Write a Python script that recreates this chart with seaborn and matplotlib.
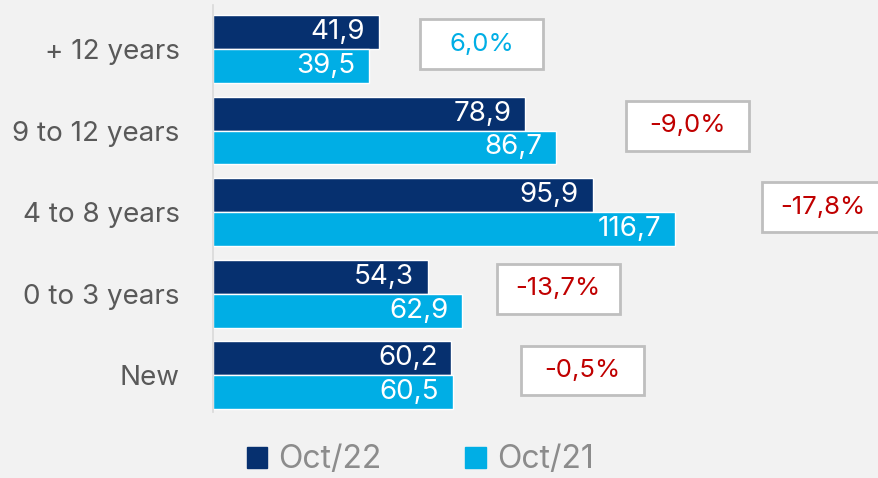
import matplotlib
matplotlib.use("Agg")
import matplotlib.pyplot as plt
import matplotlib.patches as mpatches
import pandas as pd
import seaborn as sns

# data
categories = ["+ 12 years", "9 to 12 years", "4 to 8 years", "0 to 3 years", "New"]
oct22 = [41.9, 78.9, 95.9, 54.3, 60.2]
oct21 = [39.5, 86.7, 116.7, 62.9, 60.5]
change_pct = [6.0, -9.0, -17.8, -13.7, -0.5]
series_names = ["Oct/22", "Oct/21"]

# where the change boxes sit (left edge, in value units)
box_left = [52.3, 104.3, 138.6, 71.7, 77.8]

navy = "#06306f"
cyan = "#00aee5"
bg = "#f2f2f2"

df = pd.DataFrame({
    "category": categories * 2,
    "value": oct22 + oct21,
    "series": [series_names[0]] * len(categories) + [series_names[1]] * len(categories),
})

sns.set_theme(style="white")
plt.rcParams["font.family"] = ["Inter", "DejaVu Sans"]

fig = plt.figure(figsize=(8.79, 4.78), dpi=100, facecolor=bg)
ax = fig.add_axes([213 / 879, 1 - 412 / 478, 1 - 213 / 879, (412 - 5) / 478])
ax.set_facecolor(bg)

sns.barplot(data=df, y="category", x="value", hue="series", order=categories,
            hue_order=series_names, palette=[navy, cyan], orient="h",
            width=0.83, saturation=1, ax=ax, legend=False)

ax.set_xlim(0, (879 - 213) / 3.96)
ax.set_ylim(4.45, -0.54)
ax.set_xlabel("")
ax.set_ylabel("")
ax.set_xticks([])
ax.tick_params(axis="y", length=0, pad=24, labelsize=20, labelcolor="#595959")
for s in ["top", "right", "bottom"]:
    ax.spines[s].set_visible(False)
ax.spines["left"].set_color("#d9d9d9")
ax.spines["left"].set_linewidth(1.2)

# value labels inside the bar ends
for cont in ax.containers:
    labels = [f"{b.get_width():.1f}".replace(".", ",") for b in cont]
    ax.bar_label(cont, labels=labels, padding=-10, color="white", fontsize=20)
for t in ax.texts:
    t.set_ha("right")
    x, y = t.get_position()
    t.set_position((x, y + 0.1))

# change boxes
bw, bh = 31.0, 0.61
for i, (p, left) in enumerate(zip(change_pct, box_left)):
    yc = i - 0.06
    rect = mpatches.Rectangle((left, yc - bh / 2), bw, bh, facecolor="white",
                              edgecolor="#bfbfbf", linewidth=2, clip_on=True, zorder=3)
    ax.add_patch(rect)
    col = cyan if p > 0 else "#c00000"
    ax.text(left + bw / 2, yc, f"{p:.1f}%".replace(".", ","), ha="center", va="center",
            color=col, fontsize=18.5, zorder=4)

handles = [mpatches.Patch(color=navy, label=series_names[0]),
           mpatches.Patch(color=cyan, label=series_names[1])]
leg = fig.legend(handles=handles, loc="center", bbox_to_anchor=(420 / 879, 1 - 460 / 478),
                 ncol=2, frameon=False, fontsize=23, handlelength=0.65, handleheight=0.65,
                 handletextpad=0.35, columnspacing=2.6)
for t in leg.get_texts():
    t.set_color("#8c8c8c")

fig.savefig("out.png", dpi=100, facecolor=bg)
